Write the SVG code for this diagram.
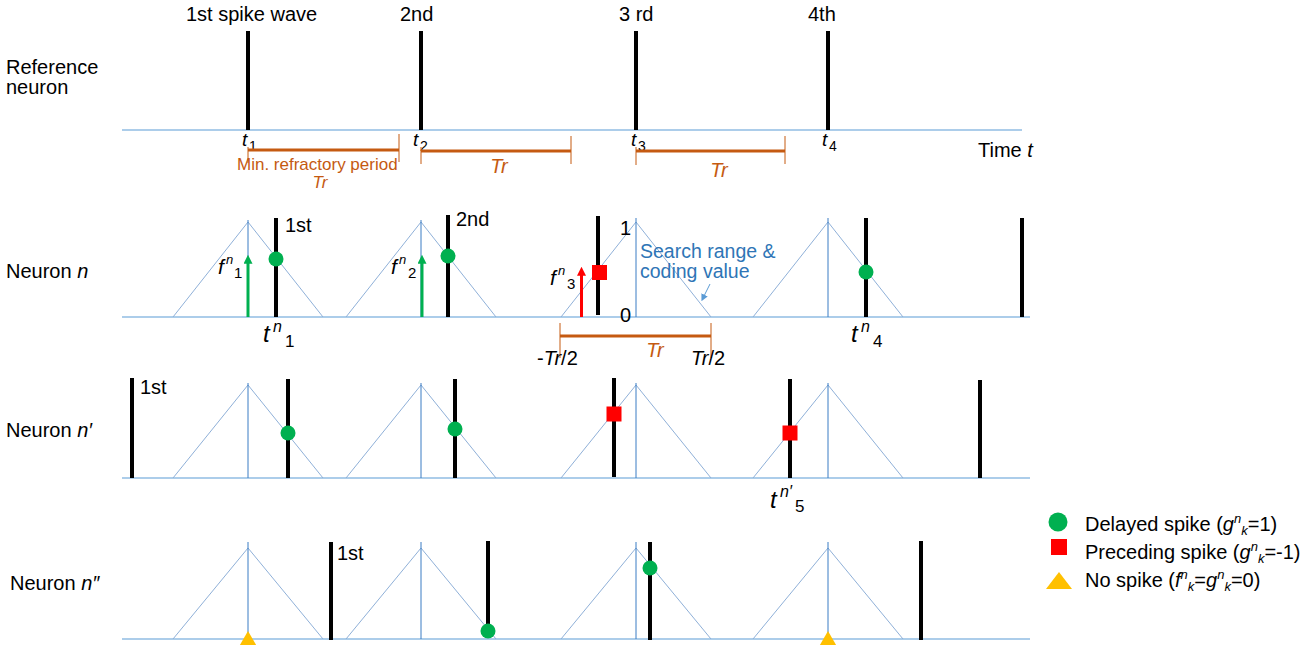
<svg xmlns="http://www.w3.org/2000/svg" width="1313" height="645" viewBox="0 0 1313 645">
<style>
text{font-family:"Liberation Sans",Arial,sans-serif;fill:#000}
.l{font-size:20px}
.i{font-style:italic}
.o{fill:#c55a11}
.bl{fill:#2e75b6}
.base{stroke:#5b9bd5;stroke-width:1.2;fill:none}
.tri{stroke:#8fb0d8;stroke-width:1;fill:none}
.vert{stroke:#3a7cc4;stroke-width:1}
.spike{stroke:#000;stroke-width:4}
.obar{stroke:#c55a11;stroke-width:3}
.otick{stroke:#c55a11;stroke-width:1}
.dot{fill:#00b050}
.sq{fill:#ff0000}
.yel{fill:#ffc000}
</style>
<defs>
<marker id="gArr" viewBox="0 0 10 10" refX="2" refY="5" markerWidth="9" markerHeight="9" orient="auto" markerUnits="userSpaceOnUse"><path d="M0,0 L10,5 L0,10 z" fill="#00b050"/></marker>
<marker id="rArr" viewBox="0 0 10 10" refX="2" refY="5" markerWidth="9" markerHeight="9" orient="auto" markerUnits="userSpaceOnUse"><path d="M0,0 L10,5 L0,10 z" fill="#ff0000"/></marker>
<marker id="bArr" viewBox="0 0 10 10" refX="5" refY="5" markerWidth="7" markerHeight="7" orient="auto" markerUnits="userSpaceOnUse"><path d="M0,0 L10,5 L0,10 z" fill="#5b9bd5"/></marker>
</defs>

<g id="reference-neuron">
<line class="base" x1="122" y1="130" x2="1022" y2="130"/>
<line class="spike" x1="248" y1="31" x2="248" y2="130"/>
<line class="spike" x1="421" y1="31" x2="421" y2="130"/>
<line class="spike" x1="636" y1="31" x2="636" y2="130"/>
<line class="spike" x1="828" y1="31" x2="828" y2="130"/>
<text class="l" x="6" y="74">Reference<tspan x="6" dy="20">neuron</tspan></text>
<text class="l" font-size="21" x="186" y="21">1st spike wave</text>
<text class="l" x="400" y="21">2nd</text>
<text class="l" x="619" y="21">3 rd</text>
<text class="l" x="808" y="21">4th</text>
<text class="l" x="978" y="157">Time <tspan class="i">t</tspan></text>
<text class="i" font-size="19" x="242" y="146">t</text><text font-size="14" x="249" y="151">1</text>
<text class="i" font-size="19" x="413" y="146">t</text><text font-size="14" x="420" y="151">2</text>
<text class="i" font-size="19" x="631" y="146">t</text><text font-size="14" x="638" y="151">3</text>
<text class="i" font-size="19" x="822" y="146">t</text><text font-size="14" x="829" y="151">4</text>
<line class="obar" x1="248" y1="150" x2="399" y2="150"/>
<line class="otick" x1="248" y1="147" x2="248" y2="163"/>
<line class="otick" x1="399" y1="134" x2="399" y2="162"/>
<line class="obar" x1="421" y1="151" x2="571" y2="151"/>
<line class="otick" x1="421" y1="147" x2="421" y2="164"/>
<line class="otick" x1="571" y1="136" x2="571" y2="164"/>
<line class="obar" x1="636" y1="151" x2="785" y2="151"/>
<line class="otick" x1="636" y1="147" x2="636" y2="165"/>
<line class="otick" x1="785" y1="136" x2="785" y2="164"/>
<text class="o" font-size="17" x="237" y="170">Min. refractory period</text>
<text class="o i" font-size="17" x="320" y="188" text-anchor="middle">Tr</text>
<text class="o i" font-size="20" x="499" y="173" text-anchor="middle">Tr</text>
<text class="o i" font-size="20" x="719" y="177" text-anchor="middle">Tr</text>
</g>

<g id="neuron-n">
<line class="base" x1="122" y1="317" x2="1030" y2="317"/>
<polyline class="tri" points="173,317 248,222 323,317"/>
<polyline class="tri" points="346,317 421,222 496,317"/>
<polyline class="tri" points="561,317 636,222 711,317"/>
<polyline class="tri" points="753,317 828,222 903,317"/>
<line class="vert" x1="248" y1="220" x2="248" y2="317"/>
<line class="vert" x1="421" y1="220" x2="421" y2="317"/>
<line class="vert" x1="636" y1="218" x2="636" y2="317"/>
<line class="vert" x1="828" y1="218" x2="828" y2="317"/>
<line class="spike" x1="276" y1="218" x2="276" y2="317"/>
<line class="spike" x1="448" y1="215" x2="448" y2="317"/>
<line class="spike" x1="598" y1="216" x2="598" y2="315"/>
<line class="spike" x1="866" y1="218" x2="866" y2="317"/>
<line class="spike" x1="1022" y1="218" x2="1022" y2="317"/>
<circle class="dot" cx="276" cy="259" r="7.5"/>
<circle class="dot" cx="448" cy="256" r="7.5"/>
<circle class="dot" cx="866" cy="272" r="7.5"/>
<rect class="sq" x="592" y="265" width="15" height="15"/>
<text class="l" x="6" y="278">Neuron <tspan class="i">n</tspan></text>
<text class="l" x="285" y="232">1st</text>
<text class="l" x="456" y="226">2nd</text>
<text class="l" x="620" y="235">1</text>
<text class="l" x="620" y="322">0</text>
<text class="bl" font-size="19.5" x="640" y="258">Search range &amp;<tspan x="640" dy="20">coding value</tspan></text>
<text class="i" font-size="21" x="218" y="274">f</text><text class="i" font-size="13" x="226" y="264">n</text><text font-size="15" x="234" y="278">1</text>
<text class="i" font-size="21" x="391" y="274">f</text><text class="i" font-size="13" x="399" y="264">n</text><text font-size="15" x="408" y="278">2</text>
<text class="i" font-size="21" x="550" y="285">f</text><text class="i" font-size="13" x="558" y="275">n</text><text font-size="15" x="567" y="289">3</text>
<text class="i" font-size="24" x="263" y="342">t</text><text class="i" font-size="16" x="273" y="332">n</text><text font-size="17" x="285" y="347">1</text>
<text class="i" font-size="24" x="851" y="342">t</text><text class="i" font-size="16" x="861" y="332">n</text><text font-size="17" x="873" y="347">4</text>
<line class="obar" x1="560" y1="336" x2="711" y2="336"/>
<line class="otick" x1="560" y1="323" x2="560" y2="358"/>
<line class="otick" x1="711" y1="323" x2="711" y2="358"/>
<text class="l" font-size="21" x="537" y="365">-<tspan class="i">Tr</tspan>/2</text>
<text class="o i" font-size="20" x="655" y="357" text-anchor="middle">Tr</text>
<text class="l" font-size="21" x="691" y="365"><tspan class="i">Tr</tspan>/2</text>
</g>

<g id="neuron-n-prime">
<line class="base" x1="122" y1="478" x2="1030" y2="478"/>
<polyline class="tri" points="173,478 248,385 323,478"/>
<polyline class="tri" points="346,478 421,385 496,478"/>
<polyline class="tri" points="561,478 636,385 711,478"/>
<polyline class="tri" points="753,478 828,385 903,478"/>
<line class="vert" x1="248" y1="383" x2="248" y2="478"/>
<line class="vert" x1="421" y1="383" x2="421" y2="478"/>
<line class="vert" x1="636" y1="383" x2="636" y2="478"/>
<line class="vert" x1="828" y1="383" x2="828" y2="478"/>
<line class="spike" x1="132" y1="378" x2="132" y2="478"/>
<line class="spike" x1="288" y1="379" x2="288" y2="478"/>
<line class="spike" x1="455" y1="379" x2="455" y2="478"/>
<line class="spike" x1="614" y1="378" x2="614" y2="477"/>
<line class="spike" x1="790" y1="379" x2="790" y2="478"/>
<line class="spike" x1="980" y1="380" x2="980" y2="478"/>
<circle class="dot" cx="288" cy="433" r="7.5"/>
<circle class="dot" cx="455" cy="429" r="7.5"/>
<rect class="sq" x="606.5" y="406.5" width="15" height="15"/>
<rect class="sq" x="782.5" y="425.5" width="15" height="15"/>
<text class="l" x="6" y="437">Neuron <tspan class="i">n′</tspan></text>
<text class="l" x="140" y="394">1st</text>
<text class="i" font-size="24" x="770" y="508">t</text><text class="i" font-size="16" x="780" y="497">n′</text><text font-size="17" x="795" y="512">5</text>
</g>

<g id="neuron-n-double-prime">
<line class="base" x1="122" y1="639" x2="1030" y2="639"/>
<polyline class="tri" points="173,639 248,548 323,639"/>
<polyline class="tri" points="346,639 421,548 496,639"/>
<polyline class="tri" points="561,639 636,548 711,639"/>
<polyline class="tri" points="753,639 828,548 903,639"/>
<line class="vert" x1="248" y1="542" x2="248" y2="639"/>
<line class="vert" x1="421" y1="542" x2="421" y2="639"/>
<line class="vert" x1="636" y1="542" x2="636" y2="639"/>
<line class="vert" x1="828" y1="542" x2="828" y2="639"/>
<line class="spike" x1="331" y1="542" x2="331" y2="640"/>
<line class="spike" x1="488" y1="541" x2="488" y2="632"/>
<line class="spike" x1="650" y1="542" x2="650" y2="640"/>
<line class="spike" x1="921" y1="541" x2="921" y2="640"/>
<circle class="dot" cx="488" cy="631" r="7.5"/>
<circle class="dot" cx="650" cy="568" r="7.5"/>
<polygon class="yel" points="248,631 237,650 259,650"/>
<polygon class="yel" points="828,631 817,650 839,650"/>
<text class="l" x="10" y="590">Neuron <tspan class="i">n″</tspan></text>
<text class="l" x="337" y="560">1st</text>
</g>

<g id="legend">
<circle class="dot" cx="1058" cy="522" r="9.5"/>
<rect class="sq" x="1051" y="539" width="16" height="16"/>
<polygon class="yel" points="1059,572 1046,589 1072,589"/>
<text class="l" x="1085" y="531">Delayed spike (<tspan class="i">g</tspan><tspan class="i" font-size="13" dy="-8">n</tspan><tspan class="i" font-size="13" dy="12">k</tspan><tspan dy="-4">=1)</tspan></text>
<text class="l" x="1085" y="559">Preceding spike (<tspan class="i">g</tspan><tspan class="i" font-size="13" dy="-8">n</tspan><tspan class="i" font-size="13" dy="12">k</tspan><tspan dy="-4">=-1)</tspan></text>
<text class="l" x="1085" y="587">No spike (<tspan class="i">f</tspan><tspan class="i" font-size="13" dy="-8">n</tspan><tspan class="i" font-size="13" dy="12">k</tspan><tspan dy="-4">=</tspan><tspan class="i">g</tspan><tspan class="i" font-size="13" dy="-8">n</tspan><tspan class="i" font-size="13" dy="12">k</tspan><tspan dy="-4">=0)</tspan></text>
</g>

<g id="connectors">
<line x1="710" y1="284" x2="703" y2="298" stroke="#5b9bd5" stroke-width="1" marker-end="url(#bArr)"/>
<line x1="248" y1="317" x2="248" y2="262" stroke="#00b050" stroke-width="3" marker-end="url(#gArr)"/>
<line x1="422" y1="317" x2="422" y2="262" stroke="#00b050" stroke-width="3" marker-end="url(#gArr)"/>
<line x1="581.5" y1="317" x2="581.5" y2="274" stroke="#ff0000" stroke-width="3" marker-end="url(#rArr)"/>
</g>
</svg>
